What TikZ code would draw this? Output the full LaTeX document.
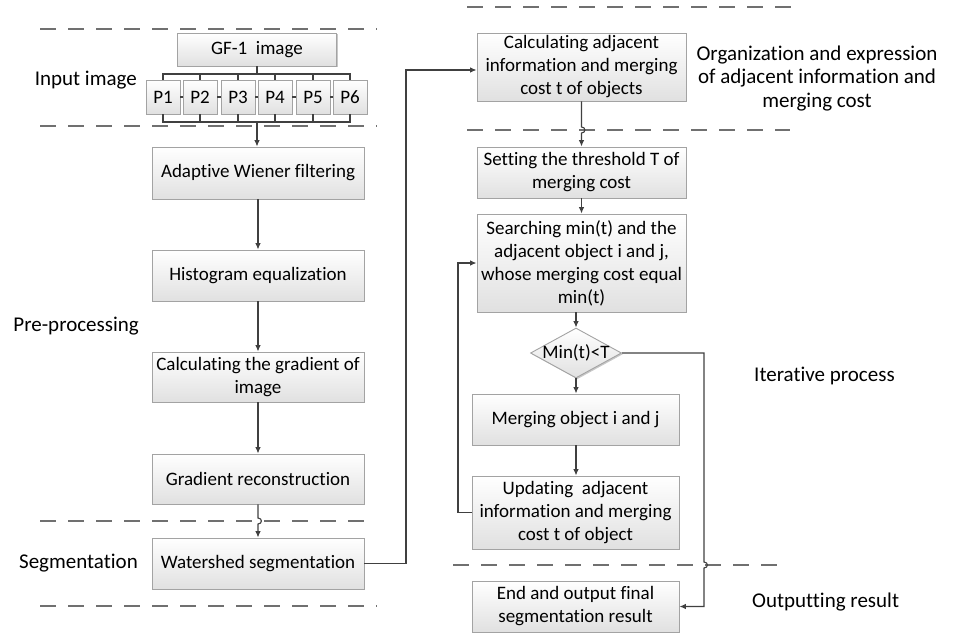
\documentclass[tikz,border=0pt]{standalone}
\usepackage{fontspec}
\setmainfont{Carlito}[Ligatures={NoCommon}]
\usetikzlibrary{shapes.geometric,arrows.meta,shadows}
\definecolor{bord}{HTML}{A3A3A3}
\definecolor{conn}{HTML}{404040}
\definecolor{sep}{HTML}{707070}
\begin{document}
\begin{tikzpicture}[x=1pt,y=-1pt,
  box/.style={draw=bord, line width=0.9pt, top color=white, bottom color=black!12,
    inner sep=0pt, align=center, font=\fontsize{19}{23}\selectfont,
    drop shadow={shadow xshift=1.3pt, shadow yshift=-1.3pt, opacity=0.22, fill=black}},
  pbox/.style={box, minimum width=34pt, minimum height=34pt},
  lbl/.style={font=\fontsize{21}{24}\selectfont, inner sep=0pt},
  conline/.style={draw=conn, line width=1.1pt},
  arr/.style={conline, -{Latex[length=6.5pt,width=5.5pt]}},
  sepline/.style={draw=sep, line width=1.4pt, dash pattern=on 16pt off 12pt}]
\useasboundingbox (0,0) rectangle (956,638);

% separators
\draw[sepline] (40,29) -- (377,29);
\draw[sepline] (40,126) -- (377,126);
\draw[sepline] (40,521) -- (372,521);
\draw[sepline] (40,606) -- (377,606);
\draw[sepline] (467,7) -- (793,7);
\draw[sepline] (467,130) -- (790,130);
\draw[sepline] (453,565) -- (777,565);

% left column
\node[box, minimum width=159pt, minimum height=33pt] (gf) at (257,49.5) {GF-1\ \ image};
\node[pbox] (p1) at (163,97) {P1};
\node[pbox] (p2) at (200,97) {P2};
\node[pbox] (p3) at (238,97) {P3};
\node[pbox] (p4) at (275,97) {P4};
\node[pbox] (p5) at (313,97) {P5};
\node[pbox] (p6) at (350,97) {P6};
\node[box, minimum width=212pt, minimum height=52pt] (wf) at (258,173) {Adaptive Wiener filtering};
\node[box, minimum width=212pt, minimum height=51pt] (he) at (258,275.5) {Histogram equalization};
\node[box, minimum width=212pt, minimum height=50pt] (cg) at (258,377) {Calculating the gradient of\\image};
\node[box, minimum width=212pt, minimum height=50pt] (gr) at (258,479) {Gradient reconstruction};
\node[box, minimum width=212pt, minimum height=51pt] (ws) at (258,563.5) {Watershed segmentation};

% right column
\node[box, minimum width=209pt, minimum height=68pt] (ca) at (581.5,67) {Calculating adjacent\\information and merging\\cost t of objects};
\node[box, minimum width=209pt, minimum height=51pt] (st) at (581.5,172.5) {Setting the threshold T of\\merging cost};
\node[box, minimum width=209pt, minimum height=98pt] (sr) at (581.5,263) {Searching min(t) and the\\adjacent object i and j,\\whose merging cost equal\\min(t)};
\node[box, shape=diamond, minimum width=91pt, minimum height=50pt] (dm) at (576,353) {\makebox[0pt]{Min(t)<T}};
\node[box, minimum width=207pt, minimum height=51pt] (mg) at (575.5,419.5) {Merging object i and j};
\node[box, minimum width=207pt, minimum height=73pt] (up) at (575.5,512.5) {Updating\ \ adjacent\\information and merging\\cost t of object};
\node[box, minimum width=207pt, minimum height=51pt] (en) at (575.5,606.5) {End and output final\\segmentation result};

% labels
\node[lbl, anchor=east] (l1) at (137,80) {Input image};
\node[lbl, anchor=east] (l2) at (139,326) {Pre-processing};
\node[lbl, anchor=east] (l3) at (138,563) {Segmentation};
\node[lbl, align=center, font=\fontsize{21}{23.5}\selectfont] (l4) at (817,78.5) {Organization and expression\\of adjacent information and\\merging cost};
\node[lbl, anchor=west] (l5) at (754,376) {Iterative process};
\node[lbl, anchor=west] (l6) at (752,602) {Outputting result};

% connectors: input image
\coordinate (bt) at (257,74);
\coordinate (bb) at (257,122);
\draw[conline] (gf.south) -- (bt);
\foreach \p in {p1,p2,p3,p4,p5,p6}{
  \draw[conline] (bt) -| (\p.north);
  \draw[conline] (\p.south) |- (bb);
}
\draw[conline] (p1.east) -- (p2.west);
\draw[conline] (p2.east) -- (p3.west);
\draw[conline] (p3.east) -- (p4.west);
\draw[conline] (p4.east) -- (p5.west);
\draw[conline] (p5.east) -- (p6.west);
\draw[arr] (bb) -- (bb |- wf.north);

\draw[arr] (wf.south) -- (he.north);
\draw[arr] (he.south) -- (cg.north);
\draw[arr] (cg.south) -- (gr.north);
\draw[arr] (gr.south) -- (258,518) .. controls (262.5,518) and (262.5,524) .. (258,524) -- (ws.north);

\coordinate (c1) at (406,563.5);
\coordinate (c2) at (406,70);
\draw[arr] (ws.east) -- (c1) -- (c2) -- (c2 -| ca.west);

\draw[arr] (ca.south) -- (581.5,127) .. controls (586,127) and (586,133) .. (581.5,133) -- (st.north);
\draw[arr] (st.south) -- (sr.north);
\draw[arr] (dm.north |- sr.south) -- (dm.north);
\draw[arr] (dm.south) -- (dm.south |- mg.north);
\draw[arr] (mg.south -| dm.south) -- (up.north -| dm.south);

\coordinate (c3) at (704,353);
\draw[arr] (dm.east) -- (c3) -- (704,562) .. controls (708.5,562) and (708.5,568) .. (704,568) -- (704,606.5) -- (en.east);

\coordinate (c4) at (458,512.5);
\coordinate (c5) at (458,263);
\draw[arr] (up.west) -- (c4) -- (c5) -- (sr.west);
\end{tikzpicture}
\end{document}
